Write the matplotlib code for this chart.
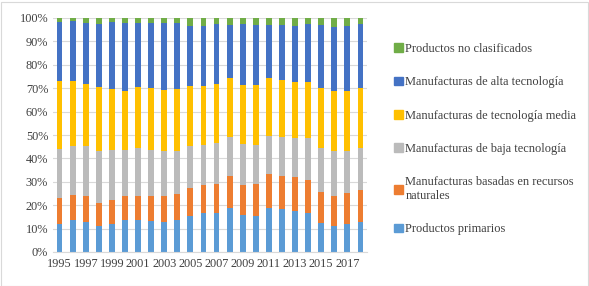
import matplotlib
matplotlib.use("Agg")
import matplotlib.pyplot as plt
from matplotlib.patches import Patch, Rectangle
import numpy as np

years = list(range(1995, 2019))

# shares in %
primarios = [12.1, 13.5, 13.0, 11.1, 12.1, 13.8, 13.5, 13.1, 12.8, 13.5, 15.5, 16.7,
             16.5, 18.9, 15.7, 15.5, 18.8, 18.2, 17.5, 16.5, 12.4, 11.3, 12.0, 12.8]
recursos = [11.0, 11.0, 10.8, 10.0, 10.1, 10.0, 10.6, 10.7, 11.3, 11.1, 12.0, 11.9,
            12.4, 13.6, 12.9, 13.7, 14.4, 14.1, 14.6, 14.4, 13.1, 12.5, 13.4, 13.8]
baja = [21.1, 20.9, 21.4, 21.9, 21.2, 19.6, 20.3, 19.9, 19.2, 18.4, 17.7, 17.1,
        17.5, 16.5, 17.6, 16.4, 16.2, 16.8, 16.6, 17.8, 18.9, 19.2, 17.6, 17.8]
media = [28.7, 27.8, 26.7, 27.4, 26.3, 25.4, 26.0, 26.4, 26.1, 26.7, 25.9, 25.1,
         25.4, 25.4, 25.0, 25.9, 24.8, 24.4, 23.8, 24.1, 25.7, 25.9, 25.8, 25.5]
alta = [25.2, 25.4, 25.8, 26.9, 28.4, 28.9, 27.3, 27.6, 28.3, 28.0, 25.6, 25.6,
        25.6, 22.8, 26.2, 25.7, 22.7, 23.4, 24.2, 24.8, 26.9, 27.4, 27.9, 27.7]
no_clasif = [1.9, 1.4, 2.3, 2.7, 1.9, 2.3, 2.3, 2.3, 2.3, 2.3, 3.3, 3.6,
             2.6, 2.8, 2.6, 2.8, 3.1, 3.1, 3.3, 2.4, 3.0, 3.7, 3.3, 2.4]

series = [primarios, recursos, baja, media, alta, no_clasif]
labels = ["Productos primarios", "Manufacturas basadas en recursos\nnaturales",
          "Manufacturas de baja tecnología", "Manufacturas de tecnología media",
          "Manufacturas de alta tecnología", "Productos no clasificados"]
colors = ["#5B9BD5", "#ED7D31", "#BBBBBB", "#FFC000", "#4472C4", "#70AD47"]

plt.rcParams['font.family'] = ['Liberation Serif', 'DejaVu Serif']
txt = "#404040"

fig = plt.figure(figsize=(5.89, 2.86), dpi=100)
ax = fig.add_axes([53/589, 34/286, 314/589, 234/286])

x = np.arange(len(years))
bottom = np.zeros(len(years))
for s, c, l in zip(series, colors, labels):
    s = np.array(s)
    ax.bar(x, s, 0.45, bottom=bottom, color=c, label=l, zorder=2)
    bottom += s

ax.set_xlim(-0.5, len(years) - 0.5)
ax.set_ylim(0, 100)
ax.set_yticks(range(0, 101, 10))
ax.set_yticklabels([f"{v}%" for v in range(0, 101, 10)])
ax.set_xticks(x[::2])
ax.set_xticklabels([str(y) for y in years[::2]])
ax.tick_params(length=0, labelsize=8.8, colors=txt)
ax.tick_params(axis='x', pad=4)
ax.grid(axis='y', color="#D9D9D9", lw=0.8, zorder=0)
for sp in ["top", "right", "left"]:
    ax.spines[sp].set_visible(False)
ax.spines["bottom"].set_color("#D9D9D9")

h = [Patch(color=c) for c in colors][::-1]
fig.legend(h, labels[::-1], loc="upper left", bbox_to_anchor=(383/589, 1 - 32/286),
           frameon=False, fontsize=8.9, labelcolor=txt, handlelength=0.7,
           handleheight=0.7, handletextpad=0.2, labelspacing=1.72)

fig.add_artist(Rectangle((0.5/589, 0.5/286), 587/589, 284/286, transform=fig.transFigure,
                         fill=False, ec="#D9D9D9", lw=0.8))

fig.savefig("out.png", dpi=100)
